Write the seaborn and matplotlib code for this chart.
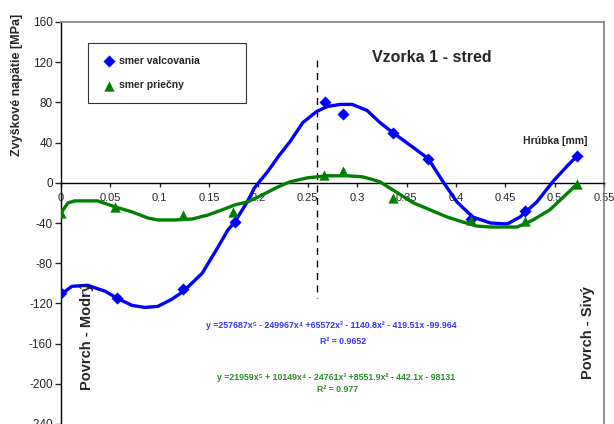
import matplotlib
matplotlib.use("Agg")
import matplotlib.pyplot as plt
import seaborn as sns
import pandas as pd

# === Measured points (hrubka [mm] vs zvyskove napatie [MPa]) ===
x_valc = [0.0, 0.057, 0.124, 0.176, 0.267, 0.286, 0.336, 0.372, 0.415, 0.470, 0.523]
y_valc = [-110, -115, -106, -39, 80, 68, 50, 24, -36, -28, 27]
x_prie = [0.0, 0.055, 0.124, 0.174, 0.266, 0.286, 0.336, 0.415, 0.470, 0.523]
y_prie = [-30, -24, -32, -29, 8, 12, -15, -37, -38, -1]

# === Trend lines ===
xt_valc = [0, 0.011, 0.027, 0.045, 0.057, 0.072, 0.085, 0.098, 0.112, 0.124, 0.143,
           0.159, 0.169, 0.176, 0.188, 0.196, 0.21, 0.22, 0.232, 0.245, 0.259, 0.27,
           0.283, 0.295, 0.31, 0.323, 0.336, 0.357, 0.372, 0.387, 0.401, 0.417, 0.435,
           0.452, 0.465, 0.482, 0.498, 0.512, 0.523]
yt_valc = [-111, -103, -102, -108, -115, -122, -124, -123, -116, -108, -90,
           -64, -47, -39, -20, -5, 12, 26, 41, 60, 71, 76,
           78, 78, 72, 60, 50, 35, 24, 1, -19, -34, -40,
           -41, -34, -19, 1, 16, 27]
xt_prie = [0, 0.007, 0.014, 0.037, 0.055, 0.072, 0.088, 0.098, 0.115, 0.133, 0.149,
           0.163, 0.176, 0.189, 0.2, 0.21, 0.22, 0.232, 0.25, 0.27, 0.29, 0.305, 0.313,
           0.323, 0.336, 0.357, 0.374, 0.391, 0.407, 0.421, 0.435, 0.462, 0.478, 0.495,
           0.508, 0.523]
yt_prie = [-30, -20, -18, -18, -24, -29, -35, -37, -37, -36, -32,
           -27, -22, -19, -14, -9, -4, 1, 5, 7, 7, 6, 4,
           1, -7, -20, -27, -34, -39, -43, -44, -44, -37, -27,
           -15, -1]

labels = ["smer valcovania", "smer priečny"]
x_ticks = [0, 0.05, 0.1, 0.15, 0.2, 0.25, 0.3, 0.35, 0.4, 0.45, 0.5, 0.55]
x_ticklabels = ["0", "0.05", "0.1", "0.15", "0.2", "0.25", "0.3", "0.35", "0.4", "0.45", "0.5", "0.55"]
y_ticks = [160, 120, 80, 40, 0, -40, -80, -120, -160, -200, -240]
cut_x = 0.259  # hranica stredu vzorky
cut_y = [122, -115]

eq_valc = "y =257687x⁵ - 249967x⁴ +65572x³ - 1140.8x² - 419.51x -99.964"
r2_valc = "R² = 0.9652"
eq_prie = "y =21959x⁵ + 10149x⁴ - 24761x³ +8551.9x² - 442.1x - 98131"
r2_prie = "R² = 0.977"

df_v = pd.DataFrame({"x": x_valc, "y": y_valc})
df_p = pd.DataFrame({"x": x_prie, "y": y_prie})
tr_v = pd.DataFrame({"x": xt_valc, "y": yt_valc})
tr_p = pd.DataFrame({"x": xt_prie, "y": yt_prie})

sns.set_style("white")
plt.rcParams["font.family"] = ["Liberation Sans", "DejaVu Sans"]
plt.rcParams["axes.unicode_minus"] = False

blue = "#0000ff"
green = "#008000"

fig = plt.figure(figsize=(6.14, 4.24), dpi=100)
ax = fig.add_axes([61 / 614, 0.0, 543 / 614, 402 / 424])

sns.lineplot(data=tr_v, x="x", y="y", sort=False, color=blue, lw=2.4, ax=ax, zorder=3)
sns.lineplot(data=tr_p, x="x", y="y", sort=False, color=green, lw=2.4, ax=ax, zorder=3)
sns.scatterplot(data=df_v, x="x", y="y", marker="D", s=38, color=blue, linewidth=0,
                ax=ax, zorder=4, label=labels[0])
sns.scatterplot(data=df_p, x="x", y="y", marker="^", s=55, color=green, linewidth=0,
                ax=ax, zorder=4, label=labels[1])

ax.plot([cut_x, cut_x], cut_y, color="black", lw=1, ls=(0, (5, 4)), zorder=2)

ax.set_xlim(0, 0.55)
ax.set_ylim(-240, 160)
ax.set_xticks(x_ticks)
ax.set_xticklabels(x_ticklabels)
ax.set_yticks(y_ticks)
ax.set_xlabel("")
ax.set_ylabel("")

ax.spines["bottom"].set_position(("data", 0))
for s in ["top", "right"]:
    ax.spines[s].set_color("#808080")
    ax.spines[s].set_linewidth(1.2)
for s in ["left", "bottom"]:
    ax.spines[s].set_color("black")
    ax.spines[s].set_linewidth(1)
ax.tick_params(axis="x", direction="out", length=3, width=1, pad=4, labelsize=8, bottom=True)
ax.tick_params(axis="y", direction="out", length=4, width=1, pad=2, labelsize=8.5, left=True)

leg = ax.legend(loc="upper left", bbox_to_anchor=(0.0405, 0.811, 0.31, 0.149),
                mode="expand", frameon=True, fancybox=False, edgecolor="black",
                borderpad=1.2, labelspacing=1.4, handlelength=1.5, handletextpad=0.3,
                prop={"size": 7.5, "weight": "bold"})
leg.get_frame().set_linewidth(0.8)

# texts
fig.text(432 / 614, 1 - 57 / 424, "Vzorka 1 - stred", ha="center", va="center",
         fontsize=11.5, fontweight="bold")
fig.text(17 / 614, 1 - 85 / 424, "Zvyškové napätie [MPa]", rotation=90,
         ha="center", va="center", fontsize=9, fontweight="bold")
fig.text(555 / 614, 1 - 141 / 424, "Hrúbka [mm]", ha="center", va="center",
         fontsize=7.5, fontweight="bold")
fig.text(87 / 614, 1 - 336 / 424, "Povrch - Modrý", rotation=90, ha="center",
         va="center", fontsize=10.5, fontweight="bold")
fig.text(588 / 614, 1 - 333 / 424, "Povrch - Sivý", rotation=90, ha="center",
         va="center", fontsize=10.5, fontweight="bold")

fig.text(331 / 614, 1 - 326 / 424, eq_valc, ha="center", va="center",
         fontsize=6.3, fontweight="bold", color="#3333ff")
fig.text(343 / 614, 1 - 342 / 424, r2_valc, ha="center", va="center",
         fontsize=6.3, fontweight="bold", color="#3333ff")
fig.text(336 / 614, 1 - 377 / 424, eq_prie, ha="center", va="center",
         fontsize=6.3, fontweight="bold", color="#2e8b2e")
fig.text(338 / 614, 1 - 389 / 424, r2_prie, ha="center", va="center",
         fontsize=6.3, fontweight="bold", color="#2e8b2e")

fig.savefig("out.png", dpi=100)
